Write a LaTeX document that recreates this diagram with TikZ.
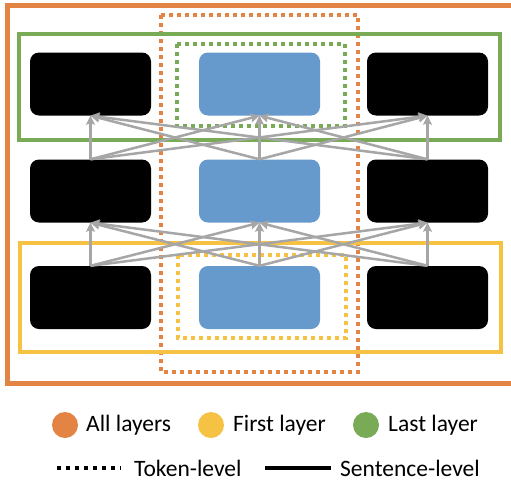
\documentclass[tikz,border=0pt]{standalone}
\usepackage{fontspec}
\setmainfont{Carlito}
\usetikzlibrary{arrows.meta}
\definecolor{cOrange}{HTML}{E38444}
\definecolor{cYellow}{HTML}{F6C244}
\definecolor{cGreen}{HTML}{79AA56}
\definecolor{cBlue}{HTML}{6699CC}
\definecolor{cGrey}{HTML}{A6A6A6}
\begin{document}
\begin{tikzpicture}[x=1pt,y=-1pt,
  blk/.style={fill=black,rounded corners=9pt,minimum width=121pt,minimum height=63pt,inner sep=0pt},
  blu/.style={fill=cBlue,rounded corners=9pt,minimum width=121pt,minimum height=63pt,inner sep=0pt},
  solidframe/.style={line width=4pt},
  dotframe/.style={line width=4pt,dash pattern=on 4pt off 4pt},
  arr/.style={draw=cGrey,line width=2.5pt,-{Stealth[length=9pt,width=9pt,inset=1.5pt]}},
  dot/.style={circle,minimum size=26pt,inner sep=0pt},
  lbl/.style={font=\fontsize{23.5}{27}\selectfont,inner sep=0pt,anchor=base west}]
\clip (0,0) rectangle (511,482);
\fill[white] (0,0) rectangle (511,482);
% frames
\draw[cOrange,line width=5pt] (7,5) rectangle (530,383);
\draw[cOrange,dotframe] (161,15) rectangle (358,372);
\draw[cGreen,solidframe] (19,34) rectangle (500,140);
\draw[cGreen,dotframe] (177,44) rectangle (345,126);
\draw[cYellow,solidframe] (20,243) rectangle (501,352);
\draw[cYellow,dotframe] (178,255) rectangle (346,338);
% boxes
\node[blk] (t1) at (90.5,84) {};
\node[blu] (t2) at (259.5,84) {};
\node[blk] (t3) at (427.5,84) {};
\node[blk] (m1) at (90.5,191) {};
\node[blu] (m2) at (259.5,191) {};
\node[blk] (m3) at (427.5,191) {};
\node[blk] (b1) at (90.5,297.5) {};
\node[blu] (b2) at (259.5,297.5) {};
\node[blk] (b3) at (427.5,297.5) {};
% arrows
\foreach \i in {1,2,3}{\foreach \j in {1,2,3}{
  \draw[arr] (m\i.north) -- (t\j.south);
  \draw[arr] (b\i.north) -- (m\j.south);
}}
% legend
\node[dot,fill=cOrange] (d1) at (65,425) {};
\node[lbl] (l1) at (86,431) {All layers};
\node[dot,fill=cYellow] (d2) at (211,425) {};
\node[lbl] (l2) at (233,431) {First layer};
\node[dot,fill=cGreen] (d3) at (366,425) {};
\node[lbl] (l3) at (388,431) {Last layer};
\coordinate (s1a) at (57,468);
\coordinate (s1b) at (121,468);
\draw[line width=4pt,dash pattern=on 4pt off 5pt] (s1a) -- (s1b);
\node[lbl] (l4) at (134,476) {Token-level};
\coordinate (s2a) at (265,468);
\coordinate (s2b) at (331,468);
\draw[line width=4pt] (s2a) -- (s2b);
\node[lbl] (l5) at (340,476) {Sentence-level};
\end{tikzpicture}
\end{document}
